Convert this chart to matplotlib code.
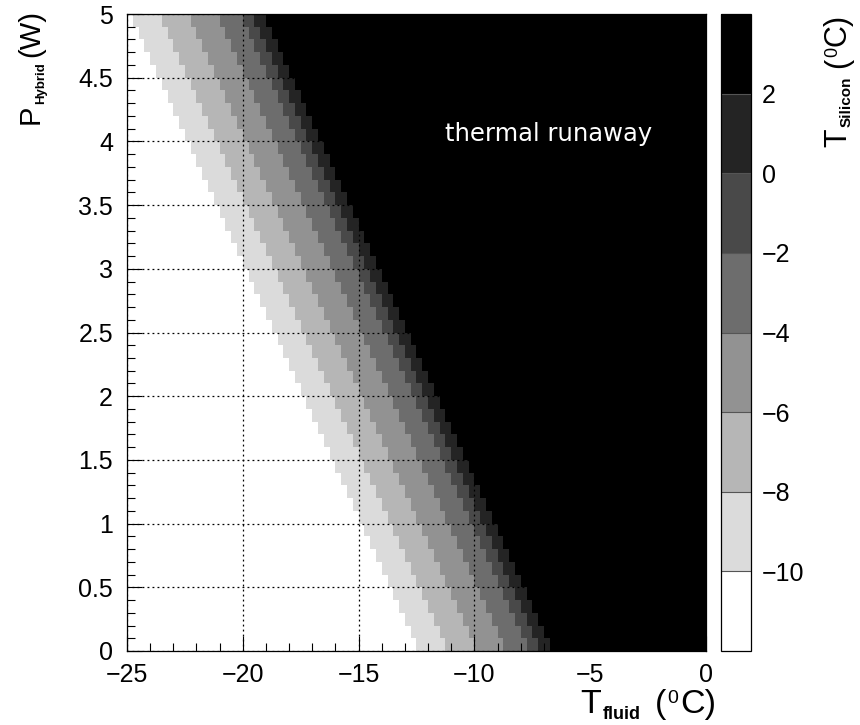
import matplotlib
matplotlib.use('Agg')
import matplotlib.pyplot as plt
import numpy as np
from matplotlib.colors import ListedColormap, BoundaryNorm
from matplotlib.ticker import MultipleLocator, FuncFormatter
from matplotlib.transforms import IdentityTransform

plt.rcParams['font.family'] = ['Liberation Sans', 'DejaVu Sans']

# silicon temperature bands (degC), white = coldest, black = warmest / runaway
t_si_levels = [-12, -10, -8, -6, -4, -2, 0, 2, 4]
# fluid temperature where T_silicon crosses -10, -8, ..., 2 at P_hybrid = 0
t_fluid_cross = [-12.45, -11.1, -9.9, -8.7, -7.7, -7.1, -6.6]
# the contours move this many degC colder per W of hybrid power
shift_per_watt = 2.5

# histogram binning of the map
x_edges = np.linspace(-25, 0, 101)
y_edges = np.linspace(0, 5, 51)

xc = 0.5 * (x_edges[:-1] + x_edges[1:])
yc = 0.5 * (y_edges[:-1] + y_edges[1:])
u = xc[None, :] + shift_per_watt * yc[:, None]
band = np.searchsorted(t_fluid_cross, u)
mids = np.array(t_si_levels[:-1]) + 1.0
Z = mids[band]

grays = np.linspace(1, 0, 8)
cmap = ListedColormap([str(g) for g in grays])
norm = BoundaryNorm(t_si_levels, cmap.N)

W, H = 860, 725
fig = plt.figure(figsize=(W / 100, H / 100), dpi=100)
ax = fig.add_axes([127 / W, 1 - 651 / H, (706 - 127) / W, (651 - 14) / H])
cax = fig.add_axes([721 / W, 1 - 651 / H, 30 / W, (651 - 14) / H])

mesh = ax.pcolormesh(x_edges, y_edges, Z, cmap=cmap, norm=norm,
                     shading='flat', edgecolors='none', antialiased=False)

ax.set_xlim(-25, 0)
ax.set_ylim(0, 5)
ax.xaxis.set_major_locator(MultipleLocator(5))
ax.xaxis.set_minor_locator(MultipleLocator(1))
ax.yaxis.set_major_locator(MultipleLocator(0.5))
ax.yaxis.set_minor_locator(MultipleLocator(0.1))

fmt = FuncFormatter(lambda v, p: '{:g}'.format(v).replace('-', '\u2212'))
ax.xaxis.set_major_formatter(fmt)
ax.yaxis.set_major_formatter(fmt)

ax.tick_params(which='both', direction='in', top=False, right=False,
               width=0.8, labelsize=18)
ax.tick_params(which='major', length=11)
ax.tick_params(which='minor', length=5.5)
ax.tick_params(axis='x', pad=8.5)
ax.tick_params(axis='y', pad=10)
for s in ax.spines.values():
    s.set_linewidth(0.9)

ax.set_axisbelow(False)
ax.grid(True, which='major', color='black', linestyle=(0, (1.5, 2.5)), linewidth=0.9)

ax.text(-11.27, 4.0, 'thermal runaway', color='white', fontsize=17.5,
        family='DejaVu Sans', ha='left', va='baseline')

cb = fig.colorbar(mesh, cax=cax, boundaries=t_si_levels, ticks=t_si_levels[1:-1],
                  drawedges=True)
cb.dividers.set_color('#555555')
cb.dividers.set_linewidth(0.8)
cb.outline.set_linewidth(0.9)
cb.ax.yaxis.set_major_formatter(fmt)
cax.tick_params(length=0, pad=8, labelsize=18)
cax.minorticks_off()

# axis titles built piece by piece (ROOT style small sub/superscripts)
renderer = fig.canvas.get_renderer()


def rich_label(pieces, end, base, vertical=False):
    # pieces: (text, size, bold, offset px, gap px); last piece ends at `end` (pixels)
    texts = []
    for s, size, bold, off, gap in pieces:
        t = fig.text(0, 0, s, fontsize=size, weight='bold' if bold else 'normal',
                     rotation=90 if vertical else 0, rotation_mode='anchor',
                     ha='left', va='baseline', transform=IdentityTransform())
        bb = t.get_window_extent(renderer)
        texts.append((t, bb.height if vertical else bb.width, off, gap))
    total = sum(w + g for _, w, _, g in texts) - texts[-1][3]
    pos = end - total
    for t, w, off, gap in texts:
        if vertical:
            t.set_position((base - off, pos))
        else:
            t.set_position((pos, base + off))
        pos += w + gap


rich_label([('T', 24.5, False, 0, 2), ('fluid', 13, True, -6, 14),
            ('(', 24.5, False, 0, 1), ('0', 14, False, 10, 2), ('C)', 24.5, False, 0, 0)],
           end=716, base=H - 713)
rich_label([('P', 21, False, 0, 1), ('Hybrid', 9.5, True, -5, 5), ('(W)', 21, False, 0, 0)],
           end=H - 10, base=39, vertical=True)
rich_label([('T', 22, False, 0, 1), ('Silicon', 11, True, -5, 9),
            ('(', 22, False, 0, 0), ('0', 13, False, 9, 1), ('C)', 22, False, 0, 0)],
           end=H - 14, base=846, vertical=True)

fig.savefig('out.png', dpi=100)
